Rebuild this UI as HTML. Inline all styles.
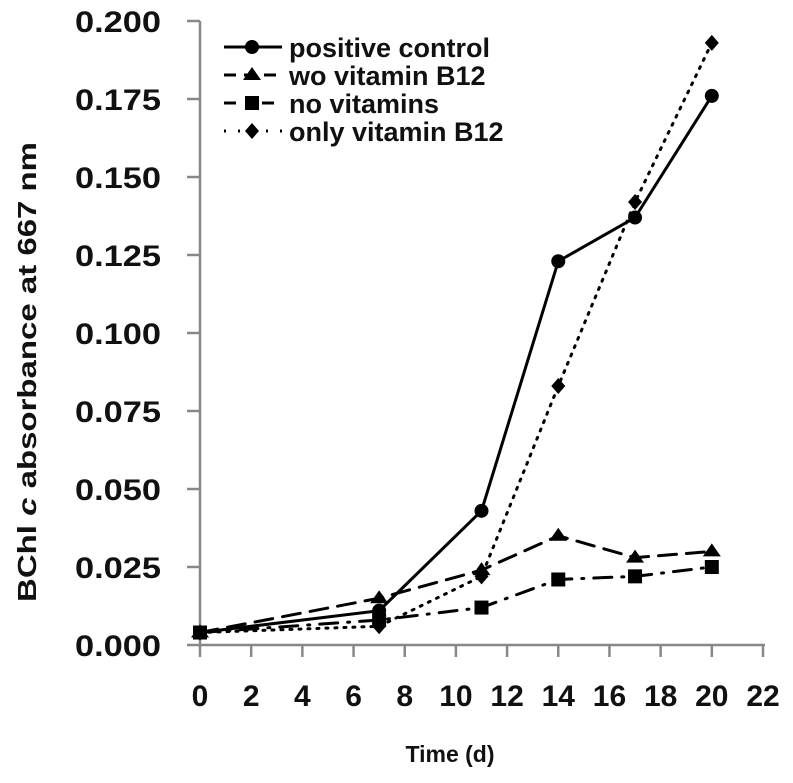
<!DOCTYPE html>
<html><head><meta charset="utf-8"><style>
body{margin:0;background:#fff;}
svg text{font-family:"Liberation Sans",sans-serif;font-weight:bold;fill:#111;}
</style></head><body>
<svg id="chart" width="793" height="778" viewBox="0 0 793 778" xmlns="http://www.w3.org/2000/svg">
<g id="axes"></g><g id="series"></g><g id="legend"></g>
</svg>
<script>
const days=[0,7,11,14,17,20];
const positiveControl=[0.004,0.011,0.043,0.123,0.137,0.176];
const woVitaminB12=[0.004,0.015,0.024,0.035,0.028,0.030];
const noVitamins=[0.004,0.008,0.012,0.021,0.022,0.025];
const onlyVitaminB12=[0.004,0.006,0.022,0.083,0.142,0.193];
const yTicks=[0,0.025,0.05,0.075,0.1,0.125,0.15,0.175,0.2];
const yTickLabels=["0.000","0.025","0.050","0.075","0.100","0.125","0.150","0.175","0.200"];
const xTicks=[0,2,4,6,8,10,12,14,16,18,20,22];
const seriesNames=["positive control","wo vitamin B12","no vitamins","only vitamin B12"];

const NS="http://www.w3.org/2000/svg";
const X0=200,X1=763,Y0=645,Y1=21;
const xs=v=>X0+v/22*(X1-X0);
const ys=v=>Y0-v/0.2*(Y0-Y1);
function mk(tag,attrs,parent){const e=document.createElementNS(NS,tag);for(const k in attrs)e.setAttribute(k,attrs[k]);parent.appendChild(e);return e;}
const axes=document.getElementById('axes'),ser=document.getElementById('series'),leg=document.getElementById('legend');
let a=mk('line',{x1:X0,y1:Y1,x2:X0,y2:Y0,stroke:'#888','stroke-width':2.5},axes);


a=mk('line',{x1:X0,y1:Y0,x2:X1+2,y2:Y0,stroke:'#888','stroke-width':2.5},axes);


yTicks.forEach((v,i)=>{
 mk('line',{x1:187,y1:ys(v),x2:X0,y2:ys(v),stroke:'#888','stroke-width':2.5},axes);
 const t=mk('text',{x:161,y:ys(v)+11,'text-anchor':'end','font-size':30,textLength:86,lengthAdjust:'spacingAndGlyphs'},axes);
 t.textContent=yTickLabels[i];
 
 
});
xTicks.forEach(v=>{
 mk('line',{x1:xs(v),y1:Y0,x2:xs(v),y2:Y0+12,stroke:'#888','stroke-width':2.5},axes);
 const t=mk('text',{x:xs(v),y:706,'text-anchor':'middle','font-size':30},axes);
 t.textContent=v;
 
 
});
let t=mk('text',{x:450,y:762,'text-anchor':'middle','font-size':23},axes);
t.textContent='Time (d)';


t=mk('text',{x:0,y:0,'text-anchor':'middle','font-size':26,textLength:460,lengthAdjust:'spacingAndGlyphs',transform:'translate(36,372) rotate(-90)'},axes);
t.innerHTML='BChl <tspan font-style="italic">c</tspan> absorbance at 667 nm';



const styles=[
 {d:null,m:'circle',name:'positive-control'},
 {d:'18,10',m:'tri',name:'wo-vitamin-b12'},
 {d:'18,10,2,10',m:'sq',name:'no-vitamins'},
 {d:'2,7',m:'dia',name:'only-vitamin-b12'}];
const data=[positiveControl,woVitaminB12,noVitamins,onlyVitaminB12];
function marker(type,x,y,g){
 if(type==='circle')return mk('circle',{cx:x,cy:y,r:7,fill:'#000'},g);
 if(type==='tri')return mk('polygon',{points:`${x},${y-8} ${x+9},${y+5} ${x-9},${y+5}`,fill:'#000'},g);
 if(type==='sq')return mk('rect',{x:x-7,y:y-7,width:14,height:14,fill:'#000'},g);
 return mk('polygon',{points:`${x},${y-8} ${x+7},${y} ${x},${y+8} ${x-7},${y}`,fill:'#000'},g);
}
data.forEach((vals,si)=>{
 const st=styles[si];
 const g=mk('g',{},ser);
 
 
 const p=mk('polyline',{points:vals.map((v,i)=>xs(days[i])+','+ys(v)).join(' '),fill:'none',stroke:'#000','stroke-width':3,'stroke-linecap':'round'},g);
 if(st.d)p.setAttribute('stroke-dasharray',st.d);
 
 
 vals.forEach((v,i)=>{
  const m=marker(st.m,xs(days[i]),ys(v),g);
  
  
 });
 const ly=47+si*28;
 const lg=mk('g',{},leg);
 
 
 const ll=mk('line',{x1:224,y1:ly,x2:282,y2:ly,stroke:'#000','stroke-width':3},lg);
 if(st.d)ll.setAttribute('stroke-dasharray',st.d==='2,7'?'2,12':st.d==='18,10'?'12,8':'12,14,2,10');
 marker(st.m,252,ly,lg);
 const lt=mk('text',{x:289,y:ly+10,'font-size':27},lg);
 lt.textContent=seriesNames[si];
});
</script>
</body></html>
